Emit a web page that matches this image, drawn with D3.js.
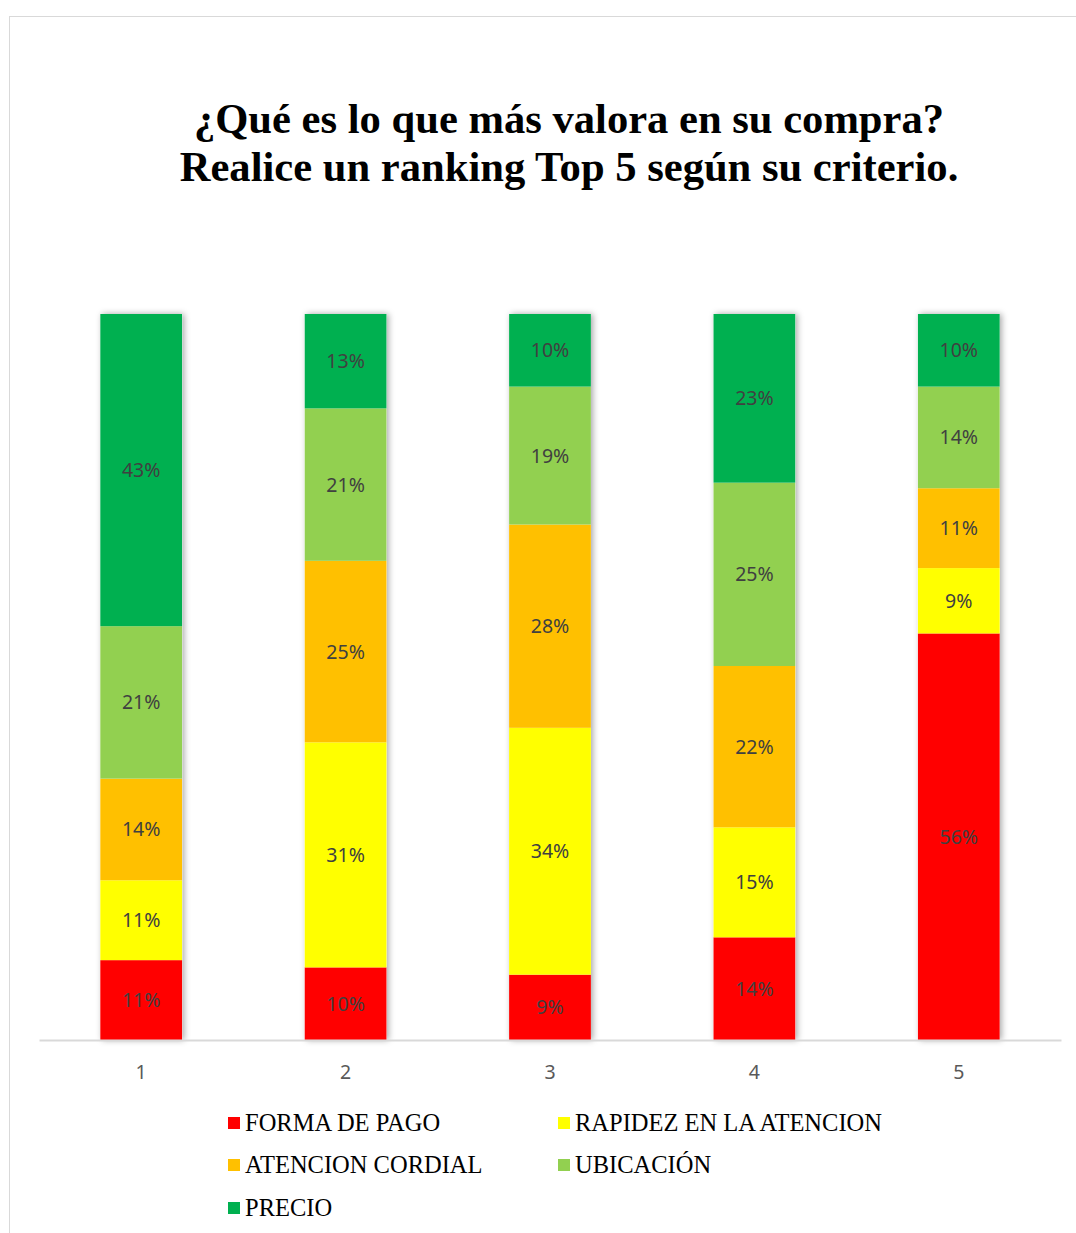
<!DOCTYPE html>
<html><head><meta charset="utf-8">
<script src="https://cdn.jsdelivr.net/npm/d3@7"></script>
<style>body{margin:0;background:#fff}</style>
</head><body>
<svg id="c" width="1076" height="1233"></svg>
<script>
const categories = ["1","2","3","4","5"];
const seriesNames = ["FORMA DE PAGO","RAPIDEZ EN LA ATENCION","ATENCION CORDIAL","UBICACIÓN","PRECIO"];
const formaDePago = [11,10,9,14,56];
const rapidez = [11,31,34,15,9];
const atencionCordial = [14,25,28,22,11];
const ubicacion = [21,21,19,25,14];
const precio = [43,13,10,23,10];
const colors = ["#ff0000","#ffff00","#ffc000","#92d050","#00b050"];
const titleLines = ["¿Qué es lo que más valora en su compra?","Realice un ranking Top 5 según su criterio."];

const seriesVals = [formaDePago, rapidez, atencionCordial, ubicacion, precio];
const rows = categories.map((c,i)=>{const o={cat:c}; seriesNames.forEach((s,j)=>o[s]=seriesVals[j][i]); return o;});
const stack = d3.stack().keys(seriesNames).offset(d3.stackOffsetExpand);
const stacked = stack(rows);

const svg = d3.select("#c");
svg.append("rect").attr("x",9.5).attr("y",16.5).attr("width",1100).attr("height",1300)
  .attr("fill","#fff").attr("stroke","#d9d9d9").attr("stroke-width",1);

const defs = svg.append("defs");
const f = defs.append("filter").attr("id","sh").attr("x","-20%").attr("y","-5%").attr("width","140%").attr("height","110%");
f.append("feDropShadow").attr("dx",2).attr("dy",0).attr("stdDeviation",3).attr("flood-color","#000").attr("flood-opacity",0.35);

const x = d3.scaleBand().domain(categories).range([39,1061]).paddingInner(0.6).paddingOuter(0.3);
const y = d3.scaleLinear().domain([0,1]).range([1040,314]);

svg.append("text").attr("x",569).attr("text-anchor","middle")
  .attr("font-family","Liberation Serif, Times New Roman, serif").attr("font-weight","bold")
  .attr("font-size",42.6).attr("fill","#000")
  .selectAll("tspan").data(titleLines).join("tspan")
  .attr("x",569).attr("y",(d,i)=>133+i*48).text(d=>d);

const barsG = svg.append("g");
barsG.selectAll("rect.bg").data(categories).join("rect")
  .attr("x",d=>x(d)).attr("y",y(1)).attr("width",x.bandwidth()).attr("height",y(0)-y(1))
  .attr("fill","#fff").attr("filter","url(#sh)");
const layers = barsG.selectAll("g.layer").data(stacked).join("g").attr("fill",(d,i)=>colors[i]);
layers.selectAll("rect").data(d=>d).join("rect")
  .attr("x",d=>x(d.data.cat)).attr("y",d=>y(d[1])).attr("width",x.bandwidth())
  .attr("height",d=>y(d[0])-y(d[1]));

const lab = svg.append("g").attr("font-family","Noto Sans, Open Sans, sans-serif").attr("font-size",19.5).attr("fill","#404040").attr("text-anchor","middle");
stacked.forEach((layer,j)=>{
  lab.selectAll(null).data(layer).join("text")
    .attr("x",d=>x(d.data.cat)+x.bandwidth()/2)
    .attr("y",d=>(y(d[0])+y(d[1]))/2+7)
    .text(d=>d.data[layer.key]+"%");
});

const ax = svg.append("g").attr("transform","translate(0,1040)")
  .call(d3.axisBottom(x).tickSize(0).tickPadding(25));
ax.select(".domain").attr("stroke","#d9d9d9").attr("stroke-width",2);
ax.selectAll("text").attr("font-family","Noto Sans, Open Sans, sans-serif").attr("font-size",19.5).attr("fill","#595959");

const legPos = [[228,1123],[558,1123],[228,1165],[558,1165],[228,1208]];
const leg = svg.append("g").selectAll("g").data(seriesNames).join("g")
  .attr("transform",(d,i)=>`translate(${legPos[i][0]},${legPos[i][1]})`);
leg.append("rect").attr("x",0).attr("y",-6).attr("width",12).attr("height",12).attr("fill",(d,i)=>colors[i]);
leg.append("text").attr("x",17).attr("y",8).attr("font-family","Liberation Serif, Times New Roman, serif")
  .attr("font-size",24.5).attr("fill","#000").text(d=>d);
</script>
</body></html>
